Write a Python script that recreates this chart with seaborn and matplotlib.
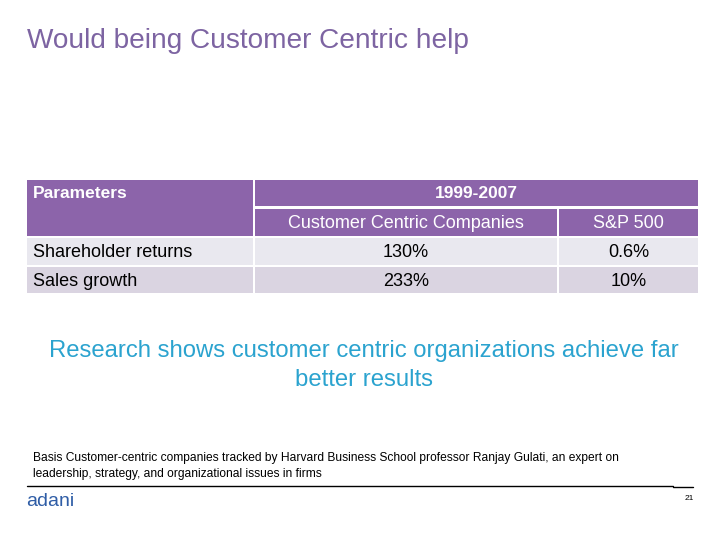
import matplotlib
matplotlib.use("Agg")
import matplotlib.pyplot as plt
import seaborn as sns
from matplotlib.patches import Rectangle

# Contenu du tableau
parameters = ["Shareholder returns", "Sales growth"]
period = "1999-2007"
column_names = ["Customer Centric Companies", "S&P 500"]
customer_centric = ["130%", "233%"]
sp500 = ["0.6%", "10%"]

title = "Would being Customer Centric help"
message_lines = ["Research shows customer centric organizations achieve far", "better results"]
footnote = ("Basis Customer-centric companies tracked by Harvard Business School professor Ranjay Gulati, an expert on\n"
            "leadership, strategy, and organizational issues in firms")
page_number = "21"

# Couleurs
purple = "#8C64AA"
title_color = "#7D64A2"
row_colors = ["#E9E8EF", "#DAD4E1"]
blue = "#2BA3CF"

sns.set_theme(style="white")
plt.rcParams["font.family"] = ["Liberation Sans", "DejaVu Sans"]

fig = plt.figure(figsize=(7.2, 5.4), dpi=100)
ax = fig.add_axes([0, 0, 1, 1])
ax.set_xlim(0, 720)
ax.set_ylim(540, 0)
ax.axis("off")

# Grille du tableau (bords des colonnes et des lignes)
col_edges = [(27, 253), (255, 557), (559, 698)]
head1 = (180, 206)
head2 = (209, 236)
row_edges = [(238, 265), (267, 293)]

def cell(x0, x1, y0, y1, color):
    ax.add_patch(Rectangle((x0, y0), x1 - x0, y1 - y0, facecolor=color, edgecolor="none"))

# En-tête
cell(col_edges[0][0], col_edges[0][1], head1[0], head2[1], purple)
cell(col_edges[1][0], col_edges[2][1], head1[0], head1[1], purple)
cell(col_edges[1][0], col_edges[1][1], head2[0], head2[1], purple)
cell(col_edges[2][0], col_edges[2][1], head2[0], head2[1], purple)

ax.text(33, 194, "Parameters", color="white", fontsize=12.5,
        fontweight="bold", ha="left", va="center")
ax.text((col_edges[1][0] + col_edges[2][1]) / 2, 194, period,
        color="white", fontsize=12.5, fontweight="bold", ha="center", va="center")
for (x0, x1), name in zip(col_edges[1:], column_names):
    ax.text((x0 + x1) / 2, 223, name, color="white",
            fontsize=13, ha="center", va="center")

# Lignes de données
for i, (y0, y1) in enumerate(row_edges):
    for x0, x1 in col_edges:
        cell(x0, x1, y0, y1, row_colors[i])
    yc = (y0 + y1) / 2 + 1
    ax.text(33, yc, parameters[i], color="black", fontsize=13, ha="left", va="center")
    ax.text(sum(col_edges[1]) / 2, yc, customer_centric[i], color="black", fontsize=13,
            ha="center", va="center")
    ax.text(sum(col_edges[2]) / 2, yc, sp500[i], color="black", fontsize=13,
            ha="center", va="center")

# Titre et message
ax.text(27, 41, title, color=title_color, fontsize=20.2, ha="left", va="center")
for line, y in zip(message_lines, [351, 380]):
    ax.text(364, y, line, color=blue, fontsize=17.2, ha="center", va="center")

# Note de bas de page
ax.text(33, 466, footnote, color="black", fontsize=8.65, ha="left", va="center",
        linespacing=1.45)
ax.plot([27, 673], [485.5, 485.5], color="black", linewidth=1)
ax.plot([673, 693], [486.5, 486.5], color="black", linewidth=1)
ax.text(689, 499, page_number, color="black", fontsize=6, ha="center", va="center")

# Logo
ax.text(26, 502, "adani", color="#2F5DA6", fontsize=14, ha="left", va="center")

fig.savefig("out.png", dpi=100)
